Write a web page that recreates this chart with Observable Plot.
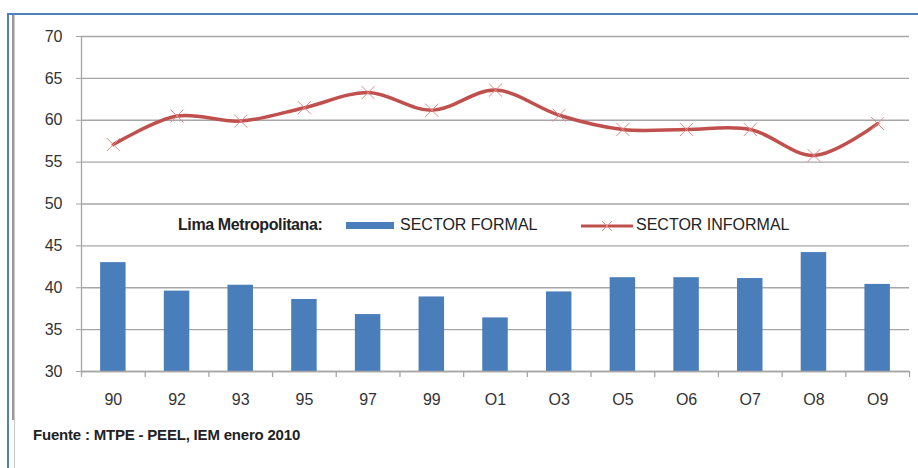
<!DOCTYPE html>
<html>
<head>
<meta charset="utf-8">
<script src="https://cdn.jsdelivr.net/npm/d3@7"></script>
<script src="https://cdn.jsdelivr.net/npm/@observablehq/plot@0.6"></script>
<style>
  body { margin: 0; background: #fff; }
  #wrap { position: relative; width: 918px; height: 468px; overflow: hidden; font-family: "Liberation Sans", Arial, sans-serif; }
  #chart { position: absolute; left: 0; top: 0; }
  .abs { position: absolute; }
</style>
</head>
<body>
<div id="wrap">
  <div id="chart"></div>
  <div class="abs" style="left:8px;top:13px;width:910px;height:2px;background:#4f81bd"></div>
  <div class="abs" style="left:7px;top:13px;width:2px;height:455px;background:#4f81bd"></div>
  <div class="abs" style="left:12px;top:15px;width:2px;height:405px;background:#9a9a9a"></div>
  <div class="abs" style="left:14px;top:15px;width:1px;height:453px;background:#c8c8c8"></div>
  <div id="legend"></div>
  <div id="footer" class="abs" style="left:33px;top:426px;font-size:15px;font-weight:bold;color:#222;letter-spacing:-0.2px"></div>
</div>
<script>
const categories = ["90","92","93","95","97","99","O1","O3","O5","O6","O7","O8","O9"];
const formal   = [43.0, 39.6, 40.3, 38.6, 36.8, 38.9, 36.4, 39.5, 41.2, 41.2, 41.1, 44.2, 40.4];
const informal = [57.1, 60.5, 59.9, 61.5, 63.3, 61.2, 63.6, 60.6, 58.9, 58.9, 58.9, 55.8, 59.6];
const yTicks = [30, 35, 40, 45, 50, 55, 60, 65, 70];
const legendTitle = "Lima Metropolitana:";
const seriesNames = ["SECTOR FORMAL", "SECTOR INFORMAL"];
const source = "Fuente : MTPE - PEEL, IEM enero 2010";

const blue = "#4a7ebb", red = "#c0504d", grid = "#a6a6a6";
const rows = categories.map((c, i) => ({cat: c, formal: formal[i], informal: informal[i]}));

const W = 918, H = 468, mL = 81, mR = 9, mT = 36, mB = 97;
const step = (W - mL - mR) / categories.length;

const plot = Plot.plot({
  width: W, height: H,
  marginLeft: mL, marginRight: mR, marginTop: mT, marginBottom: mB,
  style: {fontFamily: '"Liberation Sans", Arial, sans-serif', fontSize: "16px", color: "#333", background: "transparent"},
  x: {domain: categories, paddingInner: 0.6, paddingOuter: 0.3, round: false, label: null},
  y: {domain: [30, 70], label: null},
  marks: [
    Plot.ruleY(yTicks, {stroke: grid, strokeWidth: 1.3}),
    Plot.axisY({ticks: yTicks, tickSize: 5, tickPadding: 14, stroke: grid, fill: "#333", fontSize: 16}),
    Plot.barY(rows, {x: "cat", y1: 30, y2: "formal", fill: blue}),
    Plot.ruleX([categories[0]], {y1: 30, y2: 70, dx: -step / 2, stroke: grid, strokeWidth: 1.3}),
    Plot.ruleY([30], {stroke: grid, strokeWidth: 1.3}),
    Plot.axisX({tickSize: 6, tickFormat: () => "", dx: -step / 2, stroke: grid, strokeWidth: 1.3}),
    Plot.axisX({ticks: [categories[categories.length - 1]], tickSize: 6, tickFormat: () => "", dx: step / 2, stroke: grid, strokeWidth: 1.3}),
    Plot.axisX({tickSize: 0, tickPadding: 22, fill: "#333", fontSize: 16}),
    Plot.line(rows, {x: "cat", y: "informal", stroke: red, strokeWidth: 3.5, curve: "catmull-rom"}),
    Plot.dot(rows, {x: "cat", y: "informal", symbol: "times", r: 6, stroke: "#e08a88", strokeWidth: 1})
  ]
});
document.getElementById("chart").appendChild(plot);

const lg = document.getElementById("legend");
lg.innerHTML = `
  <div class="abs" style="left:160px;top:210px;width:186px;height:35px;background:#fff"></div>
  <div class="abs" style="left:178px;top:216px;font-size:16px;font-weight:bold;color:#222;letter-spacing:-0.4px">${legendTitle}</div>
  <div class="abs" style="left:346px;top:222px;width:48px;height:7px;background:${blue}"></div>
  <div class="abs" style="left:400px;top:216px;font-size:16px;color:#222">${seriesNames[0]}</div>
  <svg class="abs" style="left:580px;top:216px" width="54" height="20">
    <line x1="1" y1="10" x2="53" y2="10" stroke="${red}" stroke-width="3"/>
    <path d="M22,5L32,15M32,5L22,15" stroke="#e08a88" stroke-width="1"/>
  </svg>
  <div class="abs" style="left:636px;top:216px;font-size:16px;color:#222">${seriesNames[1]}</div>`;
document.getElementById("footer").textContent = source;
</script>
</body>
</html>
